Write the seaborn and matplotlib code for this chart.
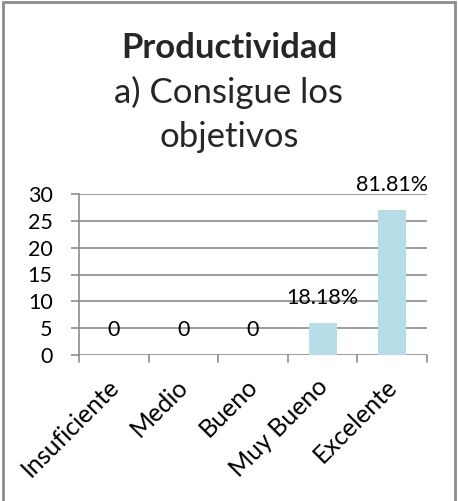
import matplotlib
matplotlib.use("Agg")
import matplotlib.pyplot as plt
import matplotlib.transforms as mtransforms
import seaborn as sns
import pandas as pd
from matplotlib.patches import Rectangle

categories = ["Insuficiente", "Medio", "Bueno", "Muy Bueno", "Excelente"]
values = [0, 0, 0, 6, 27]
labels = ["0", "0", "0", "18.18%", "81.81%"]
yticks = [0, 5, 10, 15, 20, 25, 30]

sns.set_theme(style="white")
plt.rcParams['font.family'] = ['Lato', 'DejaVu Sans']

W, H = 458, 501
fig = plt.figure(figsize=(W / 100, H / 100), dpi=100)
ax = fig.add_axes([79 / W, 1 - 355 / H, (427 - 79) / W, (355 - 194) / H])

df = pd.DataFrame({"cat": categories, "val": values})
sns.barplot(data=df, x="cat", y="val", color="#B7DDE8", width=0.4,
            saturation=1, linewidth=0, ax=ax, zorder=3)

ax.set_ylim(0, 30)
ax.set_xlim(-0.5, len(categories) - 0.5)
ax.set_yticks(yticks)
ax.set_yticklabels([str(t) for t in yticks], fontsize=15.5, color="black")
ax.set_xlabel("")
ax.set_ylabel("")
for t in yticks:
    ax.axhline(t, color="#8C8C8C", lw=1.2, zorder=1)

ax.set_xticks(range(len(categories)))
ax.set_xticklabels(categories, rotation=45, ha="right", rotation_mode="anchor",
                   fontsize=18, color="black")
ax.tick_params(axis="x", length=0, pad=14)
ax.tick_params(axis="y", length=6, width=1.2, color="#8C8C8C", left=True, pad=13)
shift = mtransforms.ScaledTranslation(-7 / 100, 0, fig.dpi_scale_trans)
for lbl in ax.get_xticklabels():
    lbl.set_transform(lbl.get_transform() + shift)
# boundary ticks on x
for b in [i - 0.5 for i in range(len(categories) + 1)]:
    ax.plot([b, b], [0, -0.045], transform=ax.get_xaxis_transform(),
            color="#8C8C8C", lw=1.2, clip_on=False)

for s in ["top", "right", "bottom"]:
    ax.spines[s].set_visible(False)
ax.spines["left"].set_color("#8C8C8C")
ax.spines["left"].set_linewidth(1.2)

for i, (v, lab) in enumerate(zip(values, labels)):
    ax.annotate(lab, (i, v), xytext=(0, 18), textcoords="offset points",
                ha="center", va="center", fontsize=15.5, color="black",
                annotation_clip=False, zorder=4)

fig.text(0.5, 1 - 58 / H, "Productividad", ha="center", va="baseline",
         fontsize=25, fontweight="bold")
fig.text(0.5, 1 - 103 / H, "a) Consigue los", ha="center", va="baseline",
         fontsize=25)
fig.text(0.5, 1 - 147 / H, "objetivos", ha="center", va="baseline",
         fontsize=25)

fig.patches.append(Rectangle((2.5 / W, -0.05), (455 - 2.5) / W, 1.05 - 2.5 / H,
                             transform=fig.transFigure, fill=False,
                             edgecolor="#8C8C8C", lw=2))

fig.savefig("out.png", dpi=100, facecolor="white")
